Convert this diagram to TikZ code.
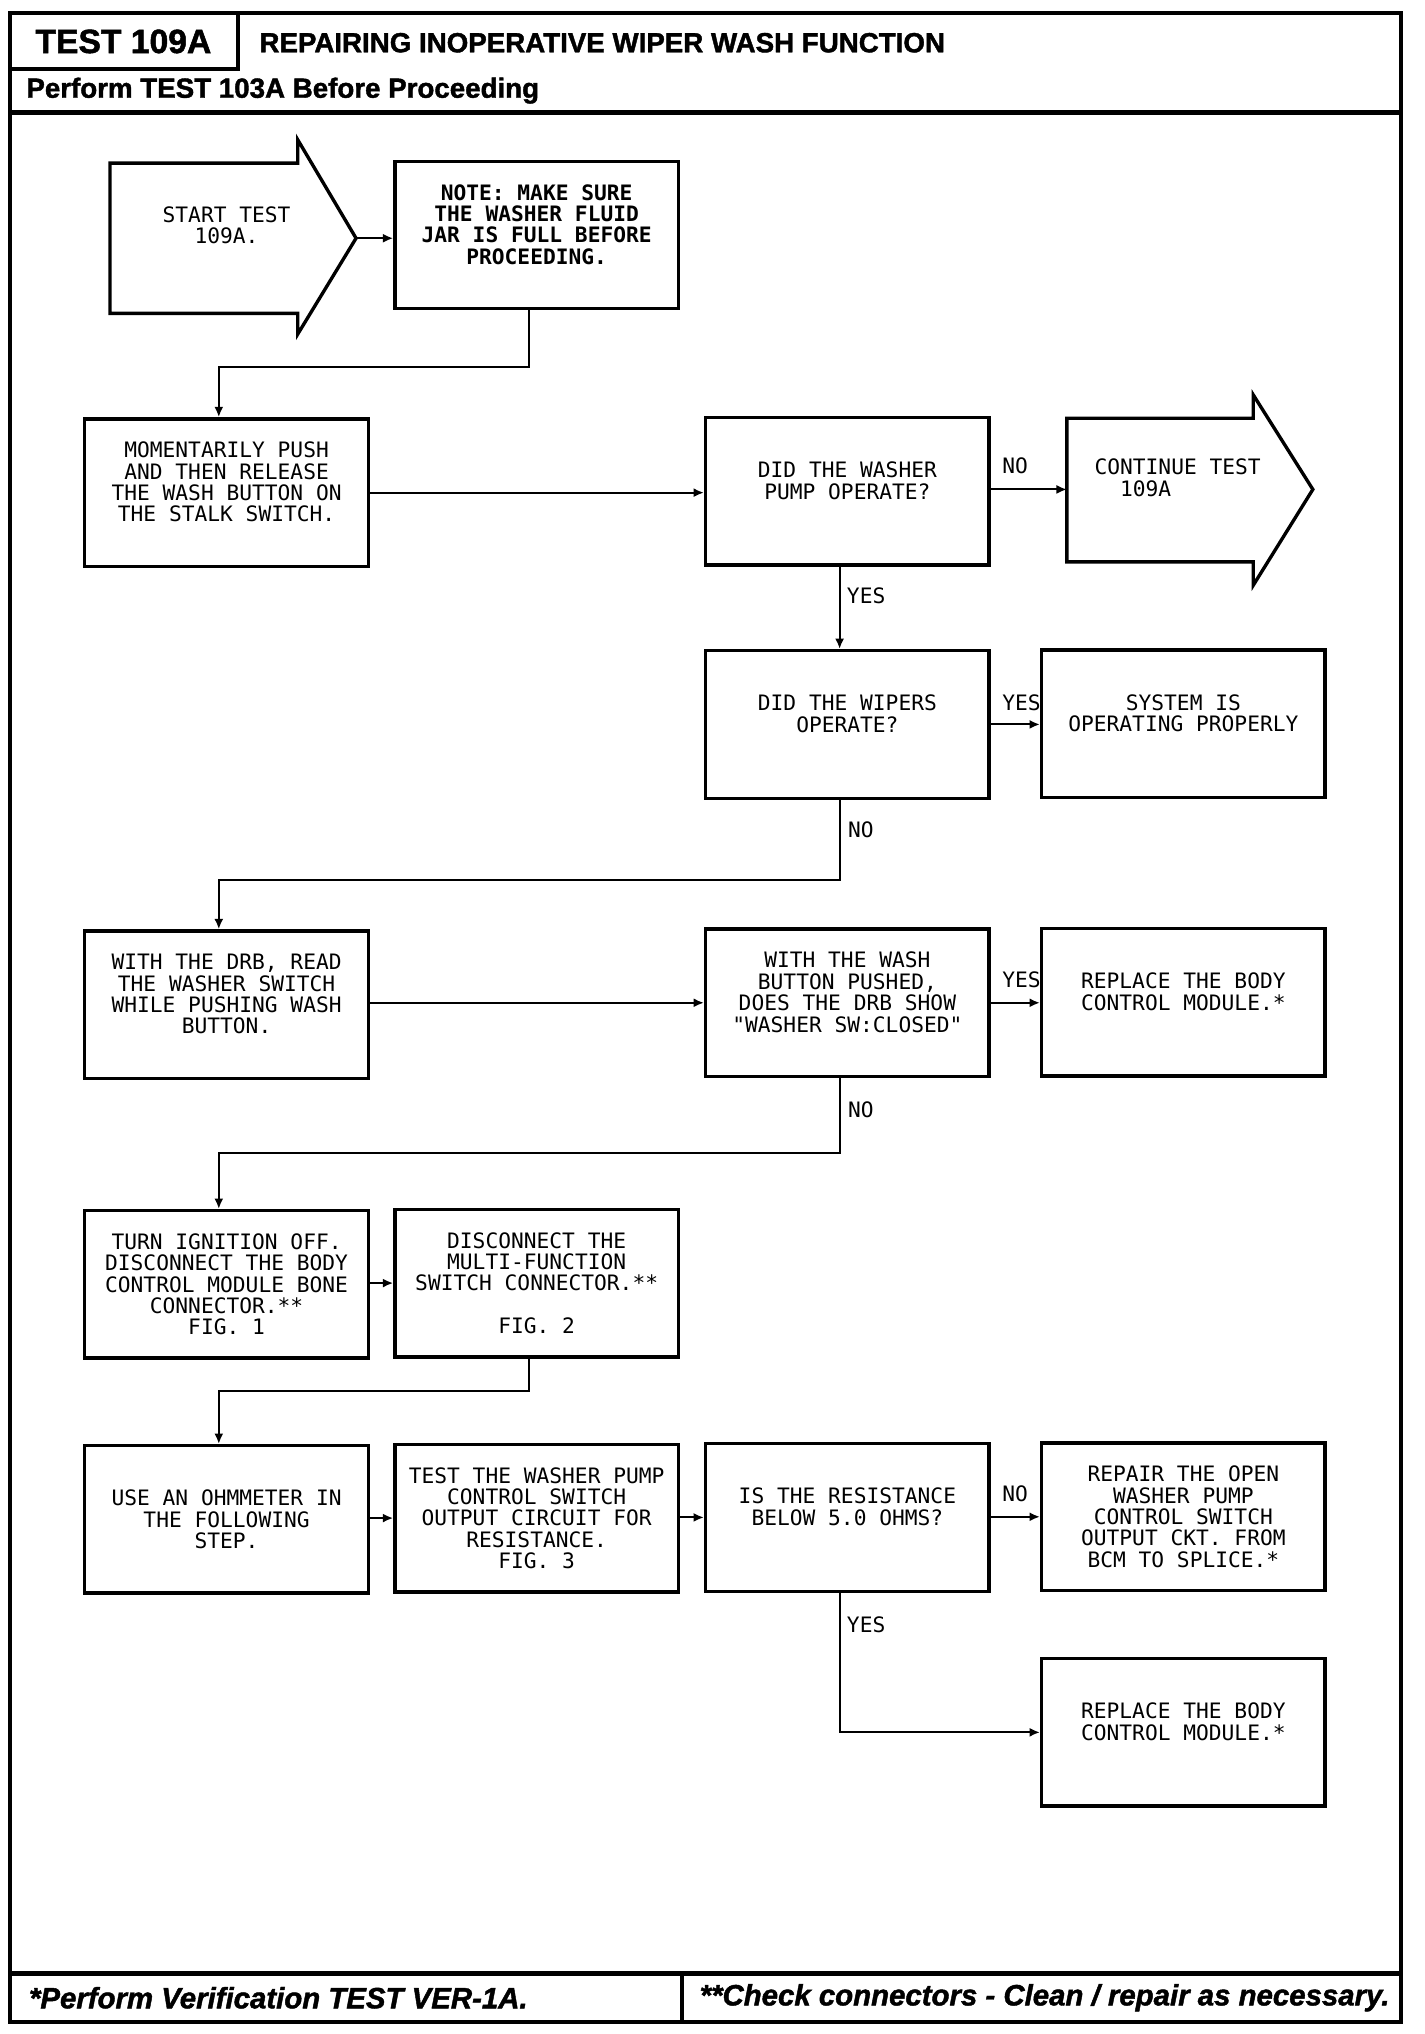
\documentclass[tikz,border=0pt]{standalone}
\usepackage{fontspec}
\usetikzlibrary{arrows.meta}
\newfontfamily\plotfont{DejaVu Sans Mono}
\newfontfamily\headfont{Liberation Sans}[FakeBold=1.5]
\newcommand{\flowfont}{\plotfont\fontsize{8.2pt}{8.25pt}\selectfont}

\begin{document}
\begin{tikzpicture}[x=0.5pt, y=-0.5pt,
  box/.style={draw, line width=1.3pt, minimum width=109.5pt, minimum height=57pt, inner sep=0pt, align=center, font=\flowfont},
  shp/.style={draw, line width=1.3pt, line join=miter},
  lbl/.style={inner sep=0pt, font=\flowfont},
  flow/.style={line width=0.8pt, -{Latex[length=4pt,width=3.5pt]}},
  frame/.style={line width=1.5pt}]
\useasboundingbox (0,0) rectangle (1100,1571);

% page frame and header
\draw[frame] (8,10) rectangle (1082,1562); % outer frame
\draw[frame] (8,53) -| (184,10); % test number box
\draw[line width=2pt] (8,87) -- (1082,87); % header rule
\draw[line width=2pt] (8,1524) -- (1082,1524); % footer rule
\draw[frame] (527,1524) -- (527,1562); % footer divider
\node[anchor=west, inner sep=0pt, font=\headfont\bfseries\fontsize{13pt}{15pt}\selectfont] (testno) at (27,32) {TEST 109A};
\node[anchor=west, inner sep=0pt, font=\headfont\bfseries\fontsize{10.7pt}{13pt}\selectfont] (title) at (200,33) {REPAIRING INOPERATIVE WIPER WASH FUNCTION};
\node[anchor=west, inner sep=0pt, font=\headfont\bfseries\fontsize{10.7pt}{13pt}\selectfont] (before) at (20,70) {Perform TEST 103A Before Proceeding};
\node[anchor=west, inner sep=0pt, font=\headfont\bfseries\itshape\fontsize{11.35pt}{13pt}\selectfont] (verify) at (22,1543) {*Perform Verification TEST VER-1A.};
\node[anchor=west, inner sep=0pt, font=\headfont\bfseries\itshape\fontsize{11.35pt}{13pt}\selectfont] (check) at (540,1543) {**Check connectors - Clean / repair as necessary.};

% start arrow
\draw[shp] (85,126) -- (230,126) -- (230,108) -- (275,184) -- (230,258) -- (230,242) -- (85,242) -- cycle;
\coordinate (starttip) at (275,184);
\node[lbl, align=center] (start) at (175,174) {START TEST\\109A.};
\node[box, font=\flowfont\bfseries] (note) at (414.5,181.5) {NOTE: MAKE SURE\\THE WASHER FLUID\\JAR IS FULL BEFORE\\PROCEEDING.\\~};
\draw[flow] (starttip) -- (starttip -| note.west);

% first test
\node[box] (push) at (175,380.5) {MOMENTARILY PUSH\\AND THEN RELEASE\\THE WASH BUTTON ON\\THE STALK SWITCH.\\~};
\draw[flow] ([xshift=-3pt]note.south) -- ++(0,44) -| ([xshift=-3pt]push.north);
\node[box] (pump) at (654.5,379.5) {DID THE WASHER\\PUMP OPERATE?\\~};
\draw[flow] (push.east) -- (push.east -| pump.west);

% continue arrow
\draw[shp] (824,323) -- (968,323) -- (968,305) -- (1014,378) -- (968,452) -- (968,434) -- (824,434) -- cycle;
\coordinate (contin) at (824,378);
\node[lbl, anchor=west, align=left] (cont) at (845,369) {CONTINUE TEST\\\phantom{CO}109A};
\draw[flow] (pump.east |- contin) -- (contin);
\node[lbl] (pumpno) at (784,360) {NO};

\node[box] (wipers) at (654.5,559.5) {DID THE WIPERS\\OPERATE?\\~};
\draw[flow] ([xshift=-3pt]pump.south) -- ([xshift=-3pt]wipers.north);
\node[lbl] (pumpyes) at (669,460) {YES};
\node[box] (okay) at (914,559) {SYSTEM IS\\OPERATING PROPERLY\\~};
\draw[flow] (wipers.east) -- (wipers.east -| okay.west);
\node[lbl] (wipyes) at (789,543) {YES};

% scan tool check
\node[box] (drb) at (175,776) {WITH THE DRB, READ\\THE WASHER SWITCH\\WHILE PUSHING WASH\\BUTTON.\\~};
\draw[flow] ([xshift=-3pt]wipers.south) -- ++(0,62) -| ([xshift=-3pt]drb.north);
\node[lbl] (wipno) at (665,641) {NO};
\node[box] (show) at (654.5,774.5) {WITH THE WASH\\BUTTON PUSHED,\\DOES THE DRB SHOW\\"WASHER SW:CLOSED"\\~};
\draw[flow] (drb.east |- show.west) -- (show.west);
\node[box] (bcm) at (914,774) {REPLACE THE BODY\\CONTROL MODULE.*\\~};
\draw[flow] (show.east) -- (show.east -| bcm.west);
\node[lbl] (showyes) at (789,757) {YES};

% connectors off
\node[box] (ign) at (175,992) {TURN IGNITION OFF.\\DISCONNECT THE BODY\\CONTROL MODULE BONE\\CONNECTOR.**\\FIG. 1};
\draw[flow] ([xshift=-3pt]show.south) -- ++(0,58) -| ([xshift=-3pt]ign.north);
\node[lbl] (showno) at (665,857) {NO};
\node[box] (mfs) at (414.5,991) {DISCONNECT THE\\MULTI-FUNCTION\\SWITCH CONNECTOR.**\\~\\FIG. 2};
\draw[flow] (ign.east |- mfs.west) -- (mfs.west);

% resistance check
\node[box] (ohm) at (175,1173.5) {USE AN OHMMETER IN\\THE FOLLOWING\\STEP.};
\draw[flow] ([xshift=-3pt]mfs.south) -- ++(0,25) -| ([xshift=-3pt]ohm.north);
\node[box] (circ) at (414.5,1172.5) {TEST THE WASHER PUMP\\CONTROL SWITCH\\OUTPUT CIRCUIT FOR\\RESISTANCE.\\FIG. 3};
\draw[flow] (ohm.east |- circ.west) -- (circ.west);
\node[box] (res) at (654.5,1172) {IS THE RESISTANCE\\BELOW 5.0 OHMS?\\~};
\draw[flow] (circ.east |- res.west) -- (res.west);
\node[box] (repair) at (914,1171.5) {REPAIR THE OPEN\\WASHER PUMP\\CONTROL SWITCH\\OUTPUT CKT. FROM\\BCM TO SPLICE.*};
\draw[flow] (res.east |- repair.west) -- (repair.west);
\node[lbl] (resno) at (784,1154) {NO};
\node[box] (bcmtwo) at (914,1338) {REPLACE THE BODY\\CONTROL MODULE.*\\~};
\draw[flow] ([xshift=-3pt]res.south) |- (bcmtwo.west);
\node[lbl] (resyes) at (669,1255) {YES};

\end{tikzpicture}
\end{document}
